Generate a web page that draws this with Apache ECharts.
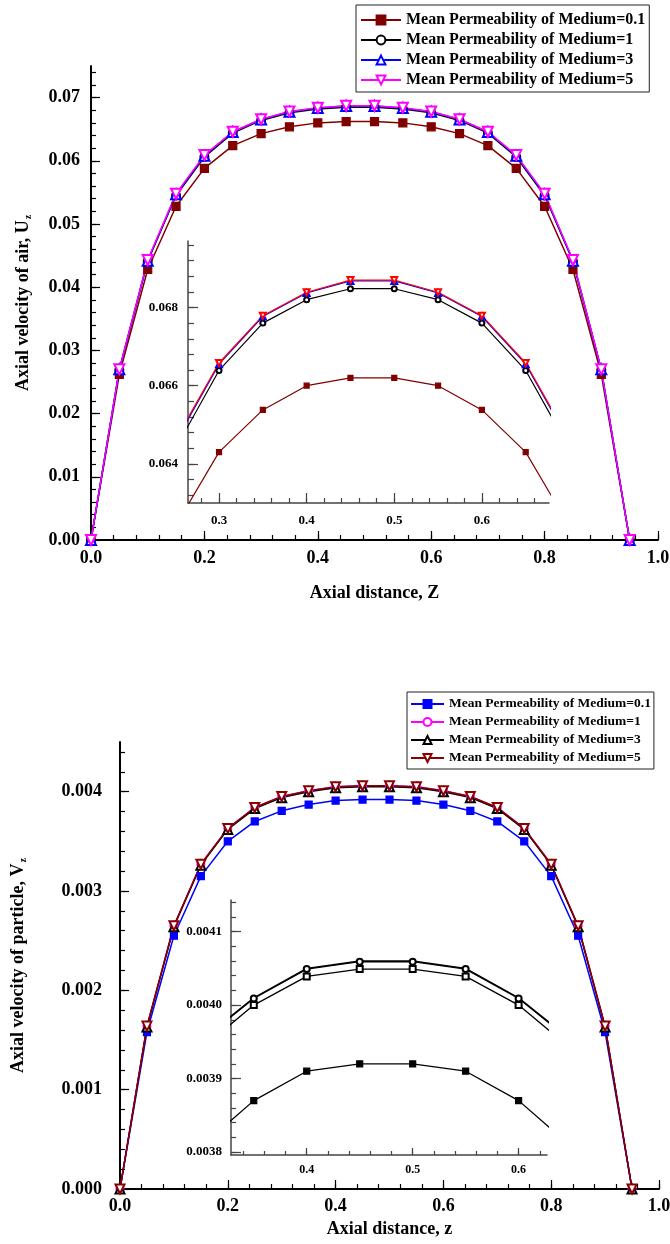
<!DOCTYPE html>
<html>
<head>
<meta charset="utf-8">
<title>Axial velocity profiles</title>
<script src="https://cdn.jsdelivr.net/npm/echarts@6.0.0/dist/echarts.min.js"></script>
<style>
  html, body { margin: 0; padding: 0; background: #fff; }
  .air-chart, .particle-chart { width: 670px; height: 622px; }
</style>
</head>
<body>
<div class="air-chart"></div>
<div class="particle-chart"></div>
<script>
// axial distance, shared by both plots
const axialZ = [0, 0.05, 0.1, 0.15, 0.2, 0.25, 0.3, 0.35, 0.4, 0.45, 0.5, 0.55, 0.6, 0.65, 0.7, 0.75, 0.8, 0.85, 0.9, 0.95];

const permNames = [
  'Mean Permeability of Medium=0.1',
  'Mean Permeability of Medium=1',
  'Mean Permeability of Medium=3',
  'Mean Permeability of Medium=5'
];

// axial velocity of air, Uz
const airPerm01 = [0, 0.0262, 0.0428, 0.0528, 0.0588, 0.0624, 0.0643, 0.06538, 0.0660, 0.0662, 0.0662, 0.0660, 0.06538, 0.0643, 0.0624, 0.0588, 0.0528, 0.0428, 0.0262, 0];
const airPerm1 = [0, 0.0269, 0.0441, 0.0545, 0.0606, 0.06438, 0.06639, 0.0676, 0.0682, 0.06848, 0.06848, 0.0682, 0.0676, 0.06639, 0.06438, 0.0606, 0.0545, 0.0441, 0.0269, 0];
const airPerm3 = [0, 0.0270, 0.0442, 0.0547, 0.0608, 0.06455, 0.06655, 0.06777, 0.06837, 0.06868, 0.06868, 0.06837, 0.06777, 0.06655, 0.06455, 0.0608, 0.0547, 0.0442, 0.0270, 0];
const airPerm5 = [0, 0.0270, 0.0443, 0.0548, 0.0609, 0.0646, 0.06658, 0.06779, 0.06839, 0.0687, 0.0687, 0.06839, 0.06779, 0.06658, 0.0646, 0.0609, 0.0548, 0.0443, 0.0270, 0];

// axial velocity of particle, Vz
const partPerm01 = [0, 0.00158, 0.00255, 0.00315, 0.0035, 0.0037, 0.003807, 0.00387, 0.00391, 0.00392, 0.00392, 0.00391, 0.00387, 0.003807, 0.0037, 0.0035, 0.00315, 0.00255, 0.00158, 0];
const partPerm1 = [0, 0.00164, 0.00265, 0.00327, 0.00363, 0.00384, 0.003951, 0.004009, 0.004049, 0.004059, 0.004059, 0.004049, 0.004009, 0.003951, 0.00384, 0.00363, 0.00327, 0.00265, 0.00164, 0];
const partPerm3 = [0, 0.00163, 0.00264, 0.00326, 0.00362, 0.00383, 0.00394, 0.0040, 0.004039, 0.004049, 0.004049, 0.004039, 0.0040, 0.00394, 0.00383, 0.00362, 0.00326, 0.00264, 0.00163, 0];
const partPerm5 = [0, 0.00164, 0.00265, 0.00327, 0.00363, 0.00384, 0.003952, 0.00401, 0.00405, 0.00406, 0.00406, 0.00405, 0.00401, 0.003952, 0.00384, 0.00363, 0.00327, 0.00265, 0.00164, 0];

// tick labels
const mainXTicks = [0, 0.2, 0.4, 0.6, 0.8, 1.0];
const airYTicks = [0, 0.01, 0.02, 0.03, 0.04, 0.05, 0.06, 0.07];
const airInsetXTicks = [0.3, 0.4, 0.5, 0.6];
const airInsetYTicks = [0.064, 0.066, 0.068];
const partYTicks = [0, 0.001, 0.002, 0.003, 0.004];
const partInsetXTicks = [0.4, 0.5, 0.6];
const partInsetYTicks = [0.0038, 0.0039, 0.0040, 0.0041];

const FONT = 'Liberation Serif';

function steps(from, to, step) {
  const out = [];
  const n = Math.round((to - from) / step);
  for (let i = 0; i <= n; i++) out.push(+(from + i * step).toFixed(7));
  return out;
}

function pairs(values) {
  return axialZ.map((z, i) => [z, values[i]]);
}

// one axis for line/labels/major ticks, one overlaid for the minor ticks
function axisPair(o) {
  const tickStyle = { color: o.color, width: o.tickWidth || 1.2 };
  const major = {
    type: 'value', gridIndex: o.grid, min: o.min, max: o.max, position: o.position,
    axisLine: { show: true, onZero: false, lineStyle: { color: o.color, width: o.lineWidth } },
    axisTick: { show: true, inside: true, length: o.majorLen, customValues: o.major, lineStyle: tickStyle },
    axisLabel: {
      customValues: o.major, margin: o.margin,
      formatter: v => v.toFixed(o.digits),
      fontFamily: FONT, fontWeight: 'bold', fontSize: o.fontSize, color: '#000'
    },
    splitLine: { show: false }
  };
  if (o.name) {
    major.name = o.name;
    major.nameLocation = 'middle';
    major.nameGap = o.nameGap;
    major.nameTextStyle = {
      fontFamily: FONT, fontWeight: 'bold', fontSize: o.nameSize, color: '#000',
      rich: {
        sub: { fontFamily: FONT, fontWeight: 'bold', fontSize: 10, color: '#000', padding: [9, 0, 0, 1] }
      }
    };
  }
  const minor = {
    type: 'value', gridIndex: o.grid, min: o.min, max: o.max, position: o.position,
    axisLine: { show: false },
    axisTick: { show: true, inside: true, length: o.minorLen, customValues: o.minor, lineStyle: tickStyle },
    axisLabel: { show: false },
    splitLine: { show: false }
  };
  return [major, minor];
}

function lineSeries(name, data, axisIdx, color, symbol, size, rotate, width) {
  return {
    name: name, type: 'line', data: data,
    xAxisIndex: axisIdx, yAxisIndex: axisIdx,
    symbol: symbol, symbolSize: size, symbolRotate: rotate || 0,
    color: color,
    lineStyle: { color: color, width: width },
    itemStyle: { color: color, borderColor: color, borderWidth: 1.2 },
    clip: true, silent: true
  };
}

// ---------- air velocity ----------
const airChart = echarts.init(document.querySelector('.air-chart'));
const airMainX = axisPair({ grid: 0, min: 0, max: 1, position: 'bottom', color: '#000', lineWidth: 2,
  majorLen: 9, minorLen: 5, major: mainXTicks, minor: steps(0, 1, 0.04), digits: 1, fontSize: 18, margin: 9,
  name: 'Axial distance, Z', nameGap: 44, nameSize: 18 });
const airMainY = axisPair({ grid: 0, min: 0, max: 0.075, position: 'left', color: '#000', lineWidth: 2,
  majorLen: 9, minorLen: 5, major: airYTicks, minor: steps(0, 0.074, 0.002), digits: 2, fontSize: 18, margin: 11,
  name: 'Axial velocity of air, U{sub|z}', nameGap: 58, nameSize: 18 });
const airInsetX = axisPair({ grid: 1, min: 0.2646, max: 0.6766, position: 'bottom', color: '#444', lineWidth: 1.5,
  majorLen: 10, minorLen: 5, major: airInsetXTicks, minor: steps(0.28, 0.66, 0.02), digits: 1, fontSize: 13, margin: 11 });
const airInsetY = axisPair({ grid: 1, min: 0.063, max: 0.0697, position: 'left', color: '#444', lineWidth: 1.5,
  majorLen: 10, minorLen: 6, major: airInsetYTicks, minor: steps(0.0632, 0.0696, 0.0004), digits: 3, fontSize: 13, margin: 10 });

airChart.setOption({
  animation: false,
  grid: [
    { left: 91, top: 66, width: 567, height: 474, containLabel: false, outerBoundsMode: 'none' },
    { left: 188, top: 241, width: 361, height: 262, containLabel: false, outerBoundsMode: 'none' }
  ],
  xAxis: [...airMainX, ...airInsetX],
  yAxis: [...airMainY, ...airInsetY],
  legend: {
    data: permNames, orient: 'vertical', left: 356, top: 5,
    itemWidth: 40, itemHeight: 11, itemGap: 4, padding: [7, 4, 4, 4],
    borderColor: '#222', borderWidth: 1, backgroundColor: '#fff',
    textStyle: { fontFamily: FONT, fontWeight: 'bold', fontSize: 16, color: '#000' }
  },
  series: [
    lineSeries(permNames[0], pairs(airPerm01), 0, '#800000', 'rect', 8, 0, 1.5),
    lineSeries(permNames[1], pairs(airPerm1), 0, '#000000', 'emptyCircle', 8, 0, 1.5),
    lineSeries(permNames[2], pairs(airPerm3), 0, '#0000ff', 'emptyTriangle', 10, 0, 1.5),
    lineSeries(permNames[3], pairs(airPerm5), 0, '#ff00ff', 'emptyTriangle', 10, 180, 1.5),
    lineSeries('inset 0.1', pairs(airPerm01), 2, '#800000', 'rect', 5, 0, 1.2),
    lineSeries('inset 1', pairs(airPerm1), 2, '#000000', 'emptyCircle', 5, 0, 1.2),
    lineSeries('inset 3', pairs(airPerm3), 2, '#0000ff', 'emptyTriangle', 6, 0, 1.2),
    lineSeries('inset 5', pairs(airPerm5), 2, '#ff0000', 'emptyTriangle', 6, 180, 1.2)
  ]
});

// ---------- particle velocity ----------
const partChart = echarts.init(document.querySelector('.particle-chart'));
const partMainX = axisPair({ grid: 0, min: 0, max: 1, position: 'bottom', color: '#000', lineWidth: 2,
  majorLen: 9, minorLen: 5, major: mainXTicks, minor: steps(0, 1, 0.04), digits: 1, fontSize: 18, margin: 8,
  name: 'Axial distance, z', nameGap: 29, nameSize: 18 });
const partMainY = axisPair({ grid: 0, min: 0, max: 0.0045, position: 'left', color: '#000', lineWidth: 2,
  majorLen: 9, minorLen: 5, major: partYTicks, minor: steps(0, 0.0044, 0.0002), digits: 3, fontSize: 18, margin: 18,
  name: 'Axial velocity of particle, V{sub|z}', nameGap: 92, nameSize: 18 });
const partInsetX = axisPair({ grid: 1, min: 0.3285, max: 0.6268, position: 'bottom', color: '#444', lineWidth: 1.5,
  majorLen: 7, minorLen: 4, major: partInsetXTicks, minor: steps(0.34, 0.62, 0.02), digits: 1, fontSize: 12, margin: 9 });
const partInsetY = axisPair({ grid: 1, min: 0.003796, max: 0.004143, position: 'left', color: '#444', lineWidth: 1.5,
  majorLen: 10, minorLen: 5, major: partInsetYTicks, minor: steps(0.0038, 0.00414, 0.00002), digits: 4, fontSize: 13, margin: 9 });

partChart.setOption({
  animation: false,
  grid: [
    { left: 120, top: 120, width: 539, height: 447, containLabel: false, outerBoundsMode: 'none' },
    { left: 231, top: 278, width: 316, height: 255, containLabel: false, outerBoundsMode: 'none' }
  ],
  xAxis: [...partMainX, ...partInsetX],
  yAxis: [...partMainY, ...partInsetY],
  legend: {
    data: permNames, orient: 'vertical', left: 407, top: 70,
    itemWidth: 33, itemHeight: 10, itemGap: 4, padding: [5, 3, 4, 3],
    borderColor: '#222', borderWidth: 1, backgroundColor: '#fff',
    textStyle: { fontFamily: FONT, fontWeight: 'bold', fontSize: 13.5, color: '#000' }
  },
  series: [
    lineSeries(permNames[0], pairs(partPerm01), 0, '#0000ff', 'rect', 7, 0, 1.5),
    lineSeries(permNames[1], pairs(partPerm1), 0, '#ff00ff', 'emptyCircle', 7, 0, 1.5),
    lineSeries(permNames[2], pairs(partPerm3), 0, '#000000', 'emptyTriangle', 9, 0, 1.5),
    lineSeries(permNames[3], pairs(partPerm5), 0, '#8b0000', 'emptyTriangle', 9, 180, 1.5),
    lineSeries('inset 0.1', pairs(partPerm01), 2, '#000000', 'rect', 6, 0, 1.3),
    lineSeries('inset 1', pairs(partPerm1), 2, '#000000', 'emptyCircle', 6, 0, 1.3),
    lineSeries('inset 3', pairs(partPerm3), 2, '#000000', 'emptyRect', 6, 0, 1.3),
    lineSeries('inset 5', pairs(partPerm5), 2, '#000000', 'none', 0, 0, 1.3)
  ]
});
</script>
</body>
</html>
